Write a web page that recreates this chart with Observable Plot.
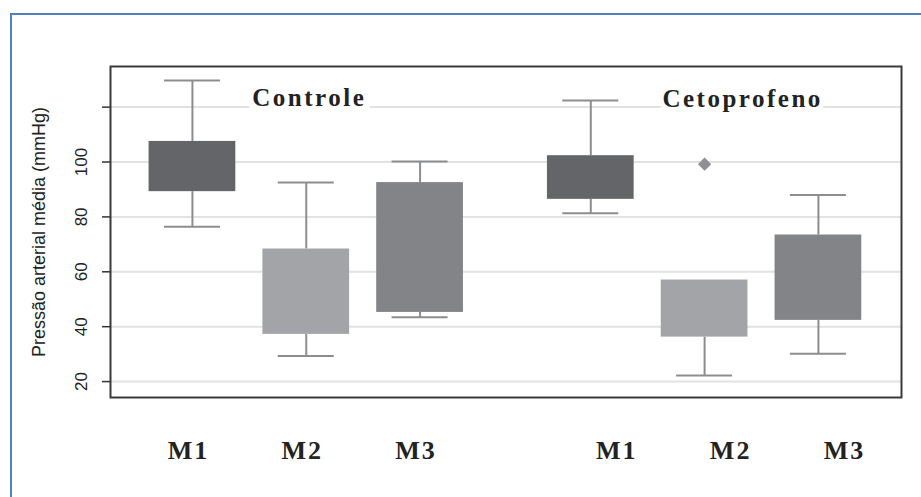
<!DOCTYPE html>
<html><head><meta charset="utf-8">
<script src="https://cdn.jsdelivr.net/npm/d3@7"></script>
<script src="https://cdn.jsdelivr.net/npm/@observablehq/plot@0.6"></script>
<style>
html,body{margin:0;padding:0;background:#fff;}
#wrap{position:relative;width:921px;height:497px;overflow:hidden;background:#fff;}
#border{position:absolute;left:10px;top:13px;width:960px;height:540px;border-left:2px solid #4f81bd;border-top:2px solid #4f81bd;}
#chart{position:absolute;left:0;top:0;}
#chart svg g[font-size="25"] text{letter-spacing:2.5px;}
#chart svg g[font-size="26"] text{letter-spacing:2px;}
</style></head><body>
<div id="wrap"><div id="border"></div><div id="chart"></div></div>
<script>
const groups = ["Controle", "Cetoprofeno"];
const moments = ["M1", "M2", "M3"];
// per group (Controle M1..M3, Cetoprofeno M1..M3)
const whiskerLow  = [76.4, 29.3, 43.4, 81.3, 22.2, 30.1];
const q1          = [89.2, 37.2, 45.2, 86.4, 36.2, 42.3];
const q3          = [107.5, 68.3, 92.5, 102.3, 57.0, 73.4];
const whiskerHigh = [129.7, 92.5, 100.2, 122.4, 57.0, 88.0];
const outlierGroup = ["Cetoprofeno"];
const outlierMoment = ["M2"];
const outlierValue = [99.2];
const yTicks = [20, 40, 60, 80, 100, 120];
const yLabel = "Pressão arterial média (mmHg)";

const posOf = (g, m) => groups.indexOf(g) * 3.5 + moments.indexOf(m) + 1;
const rows = [];
groups.forEach((g, gi) => moments.forEach((m, mi) => {
  const i = gi * 3 + mi;
  rows.push({group: g, moment: m, pos: posOf(g, m), low: whiskerLow[i], q1: q1[i], q3: q3[i], high: whiskerHigh[i]});
}));
const outliers = outlierValue.map((v, i) => ({group: outlierGroup[i], moment: outlierMoment[i], pos: posOf(outlierGroup[i], outlierMoment[i]), value: v}));
const titles = groups.map(g => ({group: g, pos: posOf(g, "M2")}));

const half = 0.381, cap = 0.246;
const sans = "'Liberation Sans', Arial, sans-serif";
const serif = "'Liberation Serif', 'Times New Roman', serif";
const whiskerColor = "#8c8d90";

const plot = Plot.plot({
  width: 921,
  height: 497,
  marginLeft: 110,
  marginRight: 20,
  marginTop: 66,
  marginBottom: 100,
  x: {type: "linear", domain: [0.28, 7.23], axis: null},
  y: {domain: [14.2, 134.8], axis: null},
  color: {domain: moments, range: ["#646568", "#a3a4a7", "#838488"]},
  marks: [
    Plot.gridY(yTicks, {stroke: "#e2e2e2", strokeOpacity: 1, strokeWidth: 2}),
    Plot.text(titles.filter(d => d.group === "Controle"), {x: "pos", text: "group", frameAnchor: "top", lineAnchor: "middle", dy: 31, dx: 3, fontSize: 25, fontWeight: "bold", fontFamily: serif, fill: "#222", stroke: "white", strokeWidth: 14}),
    Plot.text(titles.filter(d => d.group === "Cetoprofeno"), {x: "pos", text: "group", frameAnchor: "top", lineAnchor: "middle", dy: 32, dx: 38, fontSize: 25, fontWeight: "bold", fontFamily: serif, fill: "#222", stroke: "white", strokeWidth: 10}),
    Plot.ruleX(rows, {x: "pos", y1: "low", y2: "q1", stroke: whiskerColor, strokeWidth: 2}),
    Plot.ruleX(rows, {x: "pos", y1: "q3", y2: "high", stroke: whiskerColor, strokeWidth: 2}),
    Plot.ruleY(rows, {y: "low", x1: d => d.pos - cap, x2: d => d.pos + cap, stroke: whiskerColor, strokeWidth: 2}),
    Plot.ruleY(rows.filter(d => d.high > d.q3), {y: "high", x1: d => d.pos - cap, x2: d => d.pos + cap, stroke: whiskerColor, strokeWidth: 2}),
    Plot.rect(rows, {x1: d => d.pos - half, x2: d => d.pos + half, y1: "q1", y2: "q3", fill: "moment"}),
    Plot.dot(outliers, {x: "pos", y: "value", symbol: "diamond2", r: 6, fill: "#8e8f93", stroke: "none"}),
    Plot.frame({stroke: "#3a3a3a", strokeWidth: 2}),
    Plot.axisY(yTicks, {anchor: "left", tickFormat: d => d <= 100 ? String(d) : "", tickSize: 8, tickPadding: 16, tickRotate: -90, fontSize: 17, fontFamily: sans, stroke: "#333", strokeWidth: 1.5, fill: "#222", label: null}),
    Plot.text([yLabel], {text: d => d, frameAnchor: "left", textAnchor: "middle", lineAnchor: "middle", dx: -71, rotate: -90, fontSize: 18, fontFamily: sans, fill: "#222"}),
    Plot.text(rows.filter(d => d.group === "Controle"), {x: "pos", text: "moment", frameAnchor: "bottom", lineAnchor: "middle", dy: 53, dx: -4, fontSize: 26, fontWeight: "bold", fontFamily: serif, fill: "#222"}),
    Plot.text(rows.filter(d => d.group === "Cetoprofeno"), {x: "pos", text: "moment", frameAnchor: "bottom", lineAnchor: "middle", dy: 53, dx: 26, fontSize: 26, fontWeight: "bold", fontFamily: serif, fill: "#222"})
  ]
});
document.getElementById("chart").appendChild(plot);
</script>
</body></html>
